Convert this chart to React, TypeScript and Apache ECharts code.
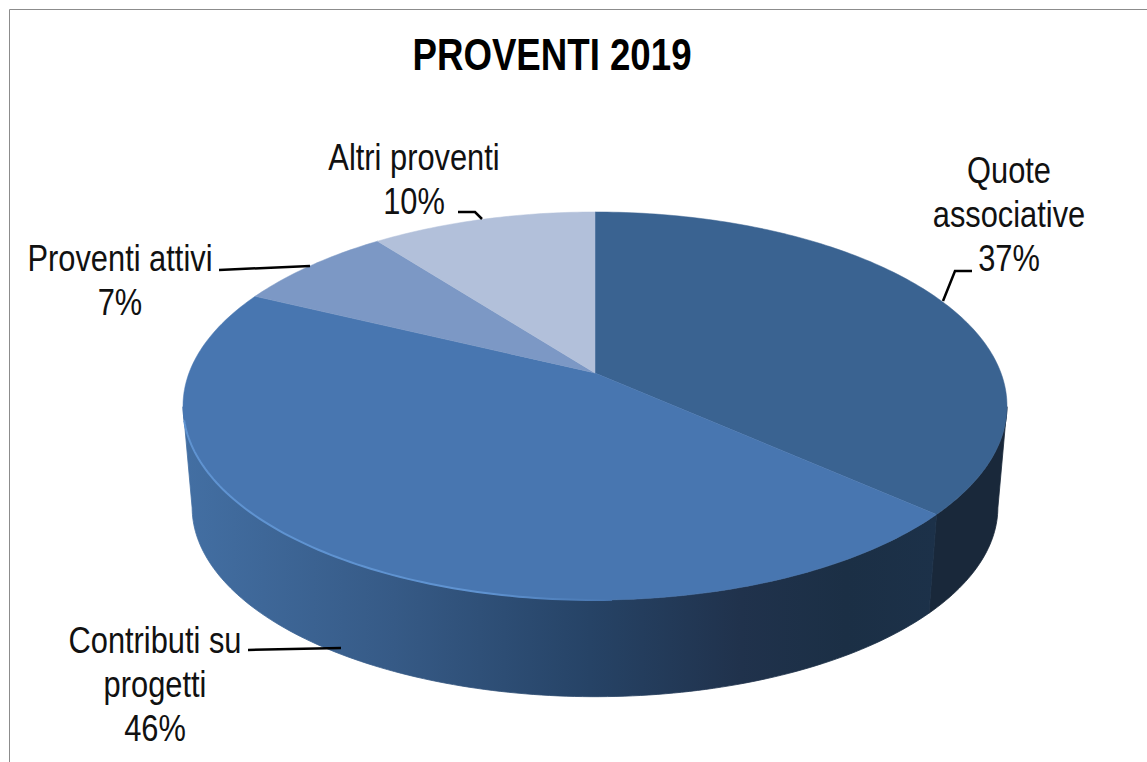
import React, { useEffect, useRef } from "react";
import * as echarts from "echarts";

const chartTitle = "PROVENTI 2019";
const categories = ["Quote\nassociative", "Contributi su\nprogetti", "Proventi attivi", "Altri proventi"];
const values = [36.6, 45.6, 7.4, 10.4];
const percentLabels = ["37%", "46%", "7%", "10%"];

const topColors = ["#3a6391", "#4876b0", "#7c98c5", "#b2c0da"];
const FONT = '"Liberation Sans", Arial, sans-serif';
const TEXT_SCALE = 0.833;

// Perspective disc geometry
const P = 0.17;
const top = { cx: 595, cy: 373, a: 406, b: 188.4 };
const bottom = { cx: 595, cy: 475, a: 397, b: 184 };
const SIDE_FROM = 100;
const SIDE_TO = 260;

const project = (d: typeof top, deg: number): number[] => {
  const t = (deg * Math.PI) / 180;
  const u = Math.sin(t);
  const v = Math.cos(t);
  const w = 1 + P * v;
  return [d.cx + (d.a * u) / w, d.cy - (d.b * v) / w];
};

const arc = (d: typeof top, from: number, to: number): number[][] => {
  const n = Math.max(2, Math.ceil(Math.abs(to - from)));
  const pts: number[][] = [];
  for (let i = 0; i <= n; i++) pts.push(project(d, from + ((to - from) * i) / n));
  return pts;
};

const labelLayout = [
  { x: 1009, y: 214, leader: [[972, 271], [955, 271], [943, 301]] },
  { x: 155, y: 684, leader: [[248, 650], [341, 648]] },
  { x: 120, y: 280, leader: [[219, 270], [310, 266]] },
  { x: 414, y: 179, leader: [[458, 212], [475, 212], [482, 219]] },
];

const total = values.reduce((s, v) => s + v, 0);
const starts: number[] = [];
values.reduce((s, v, i) => {
  starts[i] = s;
  return s + v;
}, 0);

const sideFill = (i: number): any =>
  i === 0
    ? "#19283a"
    : new echarts.graphic.LinearGradient(0, 0, 1, 0, [
        { offset: 0, color: "#436fa3" },
        { offset: 0.28, color: "#365a86" },
        { offset: 0.54, color: "#264366" },
        { offset: 0.74, color: "#20324c" },
        { offset: 0.88, color: "#1b2f45" },
        { offset: 1, color: "#1c3149" },
      ]);

const renderItem = (params: any, api: any) => {
  const i = params.dataIndex;
  const val = api.value(0) as number;
  const a0 = (starts[i] / total) * 360;
  const a1 = a0 + (val / total) * 360;
  const children: any[] = [];

  const s0 = Math.max(a0, SIDE_FROM);
  const s1 = Math.min(a1, SIDE_TO);
  if (s1 > s0) {
    children.push({
      type: "polygon",
      silent: true,
      shape: { points: [...arc(top, s0, s1), ...arc(bottom, s1, s0)] },
      style: { fill: sideFill(i), stroke: sideFill(i), lineWidth: 0.8 },
    });
  }

  children.push({
    type: "polygon",
    shape: { points: [[top.cx, top.cy], ...arc(top, a0, a1)] },
    style: { fill: topColors[i], stroke: topColors[i], lineWidth: 0.5 },
  });

  if (i === 1) {
    children.push({
      type: "polyline",
      silent: true,
      shape: { points: arc(top, 256, 178) },
      style: {
        fill: null,
        lineWidth: 2,
        stroke: new echarts.graphic.LinearGradient(0, 0, 1, 0, [
          { offset: 0, color: "#5f93d1" },
          { offset: 0.7, color: "#5f93d1" },
          { offset: 1, color: "#4876b0" },
        ]),
      },
    });
  }

  const lay = labelLayout[i];
  children.push({
    type: "polyline",
    silent: true,
    shape: { points: lay.leader },
    style: { fill: null, stroke: "#000", lineWidth: 2.5 },
  });
  children.push({
    type: "text",
    silent: true,
    x: lay.x,
    y: lay.y,
    scaleX: TEXT_SCALE,
    style: {
      text: categories[i] + "\n" + percentLabels[i],
      fill: "#111",
      font: `37px ${FONT}`,
      lineHeight: 44,
      align: "center",
      verticalAlign: "middle",
    },
  });

  return { type: "group", children };
};

export default function App() {
  const ref = useRef<HTMLDivElement>(null);
  useEffect(() => {
    const chart = echarts.init(ref.current!, null, { renderer: "svg" });
    chart.setOption({
      animation: false,
      backgroundColor: "#fff",
      graphic: [
        {
          type: "polyline",
          silent: true,
          shape: { points: [[9.5, 762], [9.5, 9.5], [1147, 9.5]] },
          style: { fill: null, stroke: "#8c8c8c", lineWidth: 1 },
        },
        {
          type: "text",
          silent: true,
          x: 552,
          y: 55,
          scaleX: TEXT_SCALE,
          style: {
            text: chartTitle,
            fill: "#000",
            font: `bold 44px ${FONT}`,
            align: "center",
            verticalAlign: "middle",
          },
        },
      ],
      series: [
        {
          type: "custom",
          coordinateSystem: "none",
          renderItem,
          data: values.map((v) => [v]),
        },
      ],
    });
    return () => chart.dispose();
  }, []);
  return <div ref={ref} style={{ position: "fixed", left: 0, top: 0, width: 1147, height: 762 }} />;
}
